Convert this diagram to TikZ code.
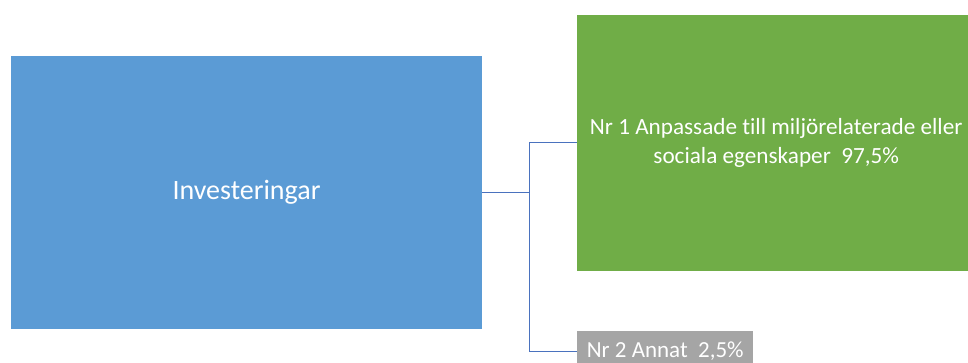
\documentclass[tikz,border=0pt]{standalone}
\usepackage{fontspec}
\setmainfont[Ligatures=NoCommon]{Carlito}
\definecolor{cblue}{HTML}{5B9BD5}
\definecolor{cgreen}{HTML}{70AD47}
\definecolor{cgray}{HTML}{A5A5A5}
\definecolor{cline}{HTML}{4A72BE}
\begin{document}
\begin{tikzpicture}[x=1pt,y=-1pt,
  boxstyle/.style={rectangle,draw=none,text=white,inner sep=0pt,align=center},
  conn/.style={draw=cline,line width=1pt}]
\useasboundingbox (0,0) rectangle (968,363);
\node[boxstyle,fill=cblue,minimum width=471pt,minimum height=273pt,font=\fontsize{28}{33}\selectfont] (inv) at (246.5,192.5) {Investeringar};
\node[boxstyle,fill=cgreen,minimum width=398pt,minimum height=256pt,font=\fontsize{23.2}{29}\selectfont,anchor=west] (g1) at (577,143) {Nr 1 Anpassade till miljörelaterade eller\\sociala egenskaper~~97,5\%};
\node[boxstyle,fill=cgray,minimum width=176pt,minimum height=40pt,font=\fontsize{23}{27}\selectfont,anchor=west] (g2) at (577,351) {Nr 2 Annat~~2,5\%};
\coordinate (br) at (529,192.5);
\draw[conn] (inv.east) -- (br);
\draw[conn] (br) |- (g1.west);
\draw[conn] (br) |- (g2.west);
\end{tikzpicture}
\end{document}
